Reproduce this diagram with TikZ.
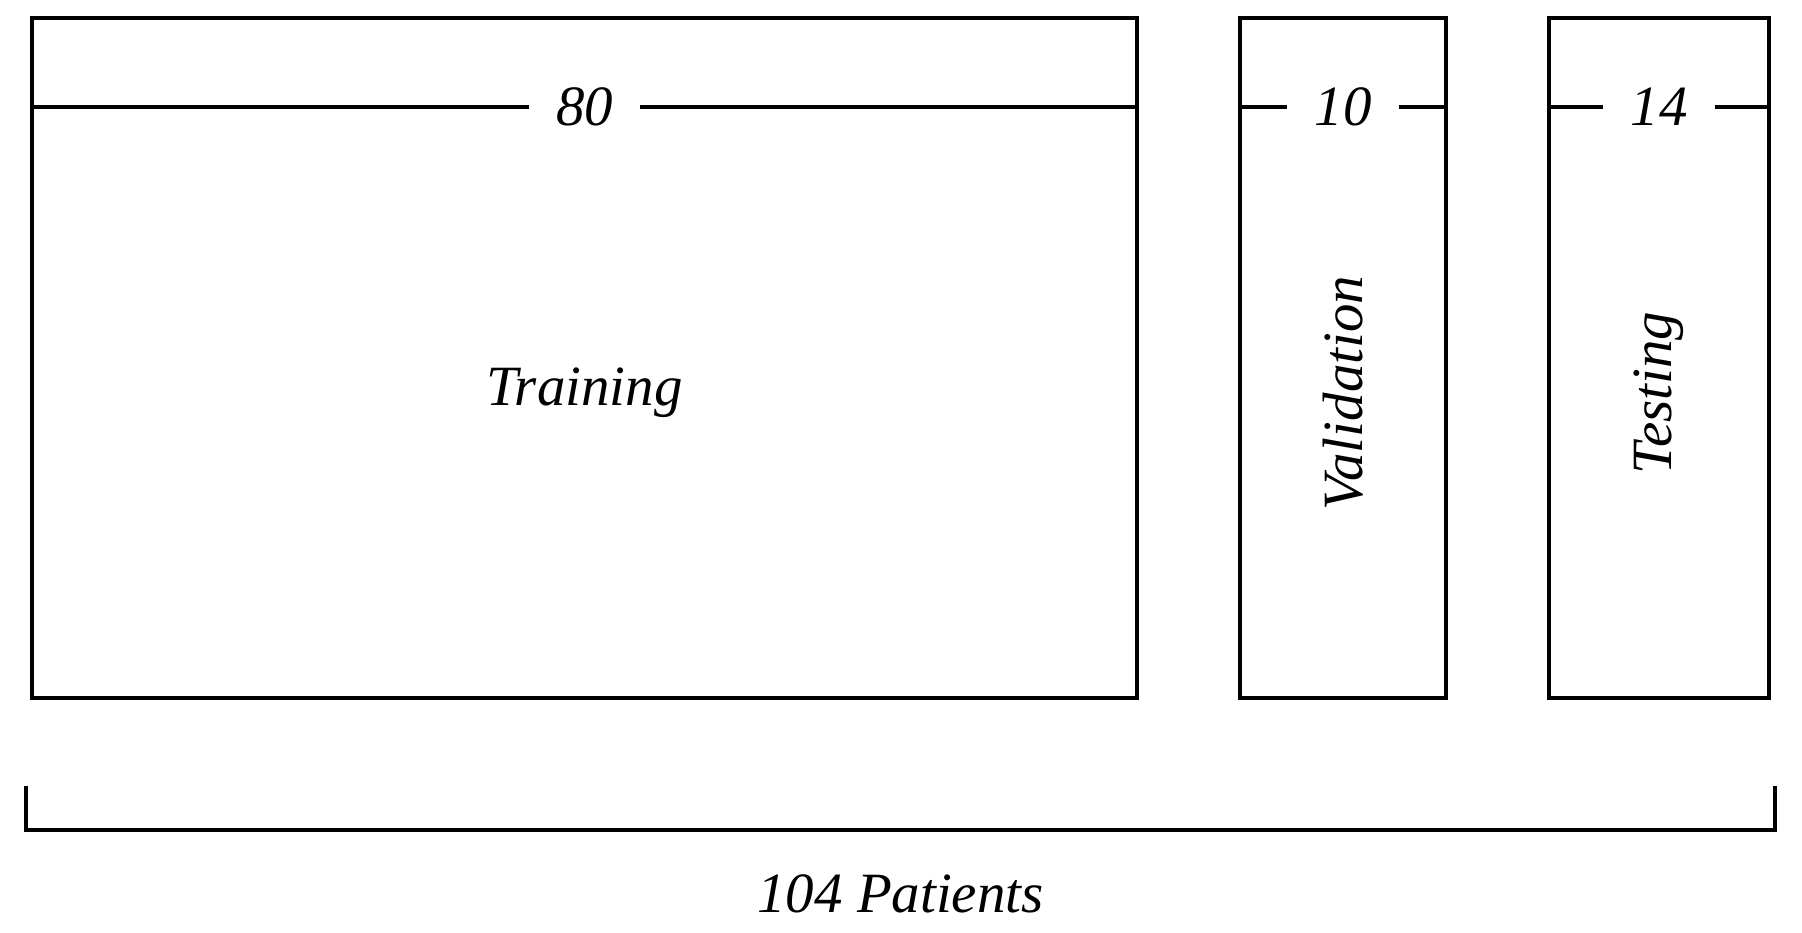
\documentclass[tikz,border=0pt]{standalone}
\usepackage{fontspec}
\setmainfont{Liberation Serif}
\usetikzlibrary{positioning,calc}
\tikzset{
  part/.style={draw,line width=0.08cm,minimum height=13.6cm,inner sep=0pt,outer sep=0pt},
  tally/.style={font=\fontsize{32.4}{38}\selectfont\itshape,inner xsep=0.55cm,inner ysep=0pt,outer sep=0pt},
  setname/.style={font=\fontsize{32.4}{38}\selectfont\itshape,inner sep=0pt},
  divider/.style={line width=0.08cm}
}
\begin{document}
\begin{tikzpicture}[node distance=2.06cm]
  \useasboundingbox (0,0) rectangle (36.04,18.64);
  \node[part,minimum width=22.1cm] (train) at (11.69,11.48) {};
  \node[part,minimum width=4.12cm,right=of train] (val) {};
  \node[part,minimum width=4.4cm,right=of val] (test) {};
  \node[tally] (n80) at ([yshift=-1.78cm]train.north) {80};
  \node[tally] (n10) at ([yshift=-1.78cm]val.north) {10};
  \node[tally] (n14) at ([yshift=-1.78cm]test.north) {14};
  \draw[divider] (train.west |- n80) -- (n80); \draw[divider] (n80) -- (train.east |- n80);
  \draw[divider] (val.west |- n10) -- (n10); \draw[divider] (n10) -- (val.east |- n10);
  \draw[divider] (test.west |- n14) -- (n14); \draw[divider] (n14) -- (test.east |- n14);
  \node[setname] (ttrain) at ([yshift=-0.7cm]train.center) {Training};
  \node[setname,rotate=90] (tval) at ([yshift=-0.7cm]val.center) {Validation};
  \node[setname,rotate=90] (ttest) at ([yshift=-0.7cm]test.center) {Testing};
  \coordinate (bl) at ([xshift=-0.12cm,yshift=-1.76cm]train.south west);
  \coordinate (br) at ([xshift=0.12cm,yshift=-1.76cm]test.south east);
  \draw[divider] (bl) -- ++(0,-0.88) -| (br);
  \node[setname] (total) at ([yshift=-2.16cm]$(bl)!0.5!(br)$) {104 Patients};
\end{tikzpicture}
\end{document}
